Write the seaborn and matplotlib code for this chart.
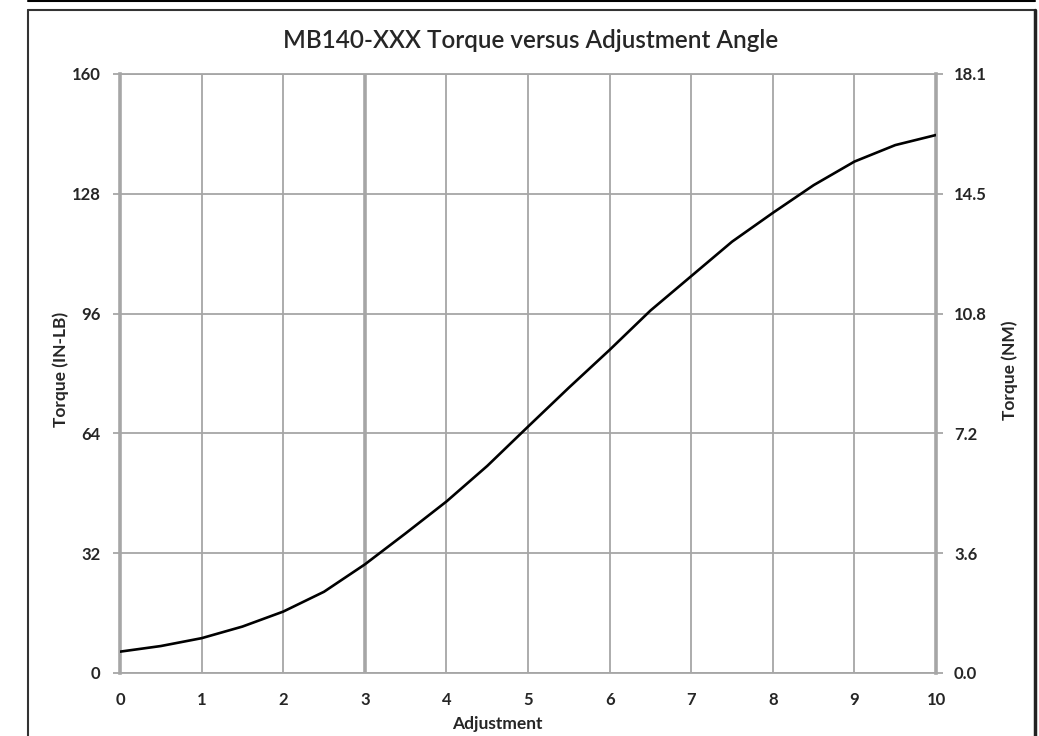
import matplotlib
matplotlib.use("Agg")
import matplotlib.pyplot as plt
import seaborn as sns
import pandas as pd
from matplotlib.lines import Line2D

# values
adjustment = [0, 0.5, 1, 1.5, 2, 2.5, 3, 3.5, 4, 4.5, 5, 5.5, 6, 6.5, 7, 7.5, 8, 8.5, 9, 9.5, 10]
torque_inlb = [5.7, 7.2, 9.3, 12.4, 16.4, 21.7, 29.0, 37.3, 45.8, 55.3, 65.8, 76.2, 86.3,
               96.8, 106.0, 115.2, 122.9, 130.3, 136.6, 141.0, 143.7]

inlb_ticks = [0, 32, 64, 96, 128, 160]
nm_labels = ["0.0", "3.6", "7.2", "10.8", "14.5", "18.1"]
x_ticks = [0, 1, 2, 3, 4, 5, 6, 7, 8, 9, 10]

sns.set_style("white")
plt.rcParams['font.family'] = ['Lato', 'DejaVu Sans']

df = pd.DataFrame({'Adjustment': adjustment, 'Torque': torque_inlb})

fig = plt.figure(figsize=(10.39, 7.36), dpi=100)
ax = fig.add_axes([0.1155, 0.0856, 0.7854, 0.8139])

grid_col = '#a6a6a6'
ax.set_xlim(0, 10)
ax.set_ylim(0, 160)
ax.set_xticks(x_ticks)
ax.set_yticks(inlb_ticks)
ax.grid(True, color=grid_col, linewidth=1.3)
ax.axvline(3, color=grid_col, linewidth=2.6, zorder=1)
ax.set_axisbelow(True)

sns.lineplot(data=df, x='Adjustment', y='Torque', color='black', linewidth=1.9, ax=ax,
             zorder=5, solid_joinstyle='round')

for side in ['left', 'right']:
    ax.spines[side].set_color(grid_col)
    ax.spines[side].set_linewidth(2.6)
for side in ['top', 'bottom']:
    ax.spines[side].set_color(grid_col)
    ax.spines[side].set_linewidth(1.3)

ax.tick_params(axis='both', direction='out', length=5, width=1.3, color=grid_col,
               labelsize=12, pad=9)
for lab in ax.get_xticklabels() + ax.get_yticklabels():
    lab.set_fontweight('bold')

ax.set_xlabel('Adjustment', fontsize=12.5, fontweight='bold')
ax.xaxis.set_label_coords(0.462, -0.072)
ax.set_ylabel('Torque (IN-LB)', fontsize=12.5, fontweight='bold')
ax.yaxis.set_label_coords(-0.063, 0.506)

ax2 = ax.twinx()
ax2.set_ylim(0, 160)
ax2.set_yticks(inlb_ticks)
ax2.set_yticklabels(nm_labels)
ax2.tick_params(axis='y', direction='out', length=5, width=1.3, color=grid_col,
                labelsize=12, pad=8)
for lab in ax2.get_yticklabels():
    lab.set_fontweight('bold')
for s in ax2.spines.values():
    s.set_visible(False)
ax2.set_ylabel('Torque (NM)', fontsize=12.5, fontweight='bold')
ax2.yaxis.set_label_coords(1.080, 0.505)

fig.suptitle('MB140-XXX Torque versus Adjustment Angle', fontsize=17.5,
             x=0.511, y=1 - 40/736, va='center', fontweight='semibold')

# outer frame lines
fig.add_artist(Line2D([28/1039, 1035/1039], [1 - 1/736, 1 - 1/736], color='black', linewidth=1.5))
fig.add_artist(Line2D([28/1039, 1035/1039], [1 - 10/736, 1 - 10/736], color='#333333', linewidth=1.5))
fig.add_artist(Line2D([28/1039, 28/1039], [0, 1 - 10/736], color='#333333', linewidth=1.5))
fig.add_artist(Line2D([1035/1039, 1035/1039], [0, 1 - 10/736], color='#222222', linewidth=2.5))

fig.savefig('out.png', dpi=100)
